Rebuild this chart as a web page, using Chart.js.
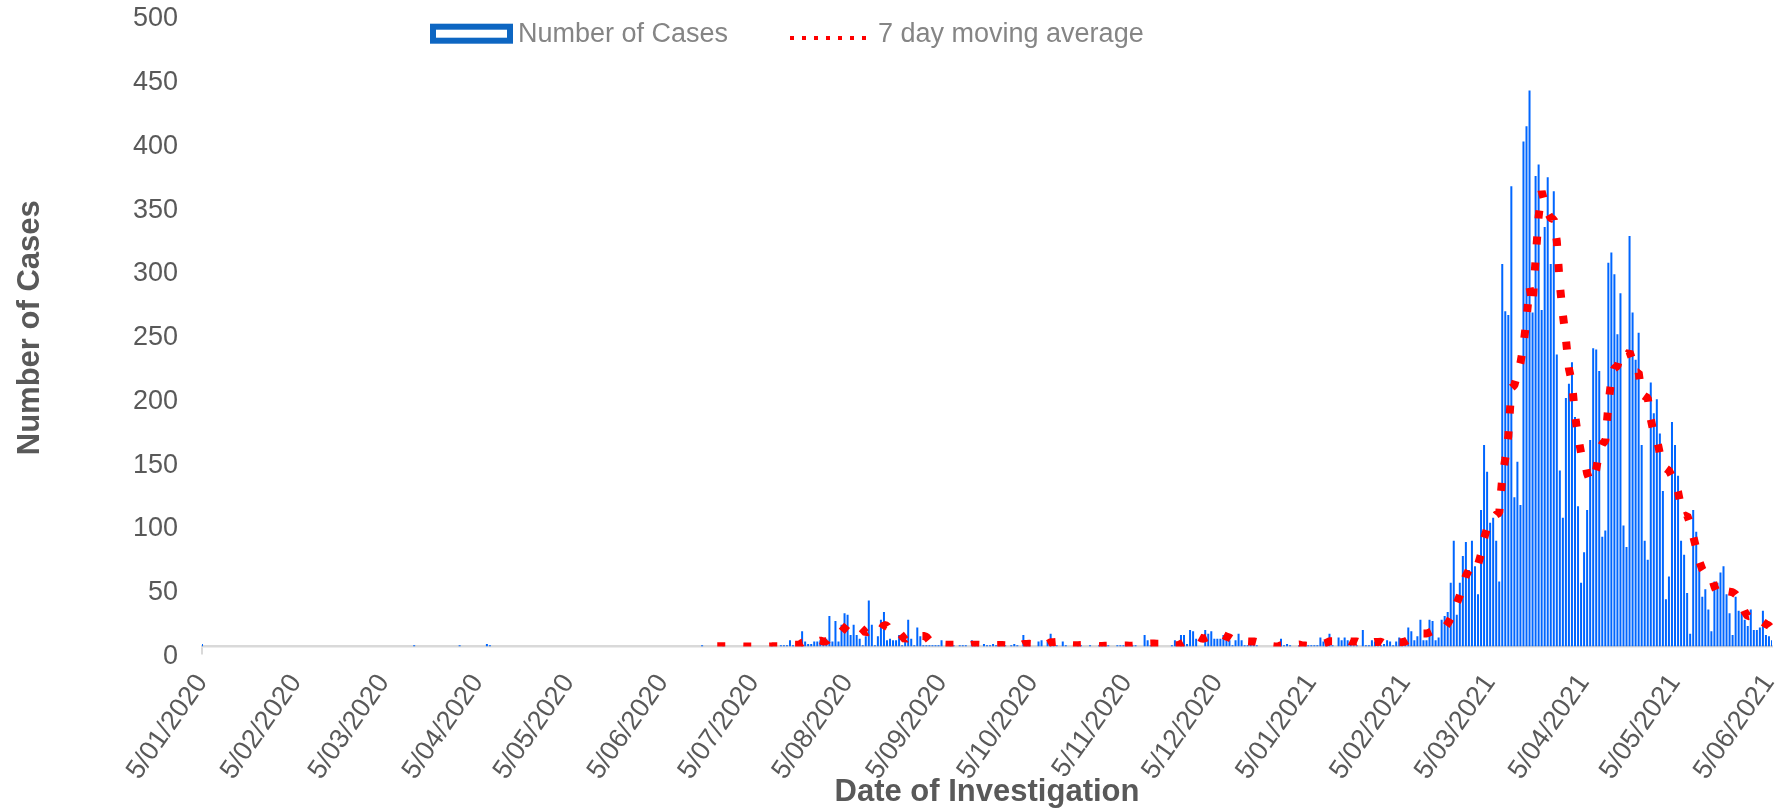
<!DOCTYPE html>
<html>
<head>
<meta charset="utf-8">
<script src="https://cdn.jsdelivr.net/npm/chart.js@4.4.1/dist/chart.umd.min.js"></script>
<style>
html,body{margin:0;padding:0;background:#ffffff;}
canvas{display:block;}
</style>
</head>
<body>
<canvas id="c" width="1788" height="811"></canvas>
<script>
// ---------- data ----------
const startDate = [2020, 0, 5];   // first category: 5/01/2020
const dayCount = 519;             // 5/01/2020 .. 6/06/2021

const tickLabels = ['5/01/2020','5/02/2020','5/03/2020','5/04/2020','5/05/2020','5/06/2020',
  '5/07/2020','5/08/2020','5/09/2020','5/10/2020','5/11/2020','5/12/2020',
  '5/01/2021','5/02/2021','5/03/2021','5/04/2021','5/05/2021','5/06/2021'];

const legendLabels = ['Number of Cases', '7 day moving average'];
const yTitle = 'Number of Cases';
const xTitle = 'Date of Investigation';

// daily number of cases (one value per day)
const cases = [
2,0,0,0,0,0,0,0,0,0,
0,0,0,0,0,0,0,0,0,0,
0,0,0,0,0,0,0,0,0,0,
0,0,0,0,0,0,0,0,0,0,
0,0,0,0,0,0,0,0,0,0,
0,0,0,0,0,0,0,0,0,0,
0,0,0,0,0,0,0,0,0,0,
1,0,0,0,0,0,0,0,0,0,
0,0,0,0,0,1,0,0,0,0,
0,0,0,0,2,1,0,0,0,0,
0,0,0,0,0,0,0,0,0,0,
0,0,0,0,0,0,0,0,0,0,
0,0,0,0,0,0,0,0,0,0,
0,0,0,0,0,0,0,0,0,0,
0,0,0,0,0,0,0,0,0,0,
0,0,0,0,0,0,0,0,0,0,
0,0,0,0,0,1,0,0,0,0,
0,0,1,0,0,0,0,0,0,0,
0,0,0,0,0,0,0,0,1,0,
0,1,1,1,5,1,0,0,12,4,
2,2,4,4,5,6,6,24,4,20,
4,17,26,25,9,17,9,6,1,8,
36,17,1,8,21,27,5,6,5,5,
9,1,6,21,6,1,15,8,1,1,
1,1,1,1,5,0,0,1,1,0,
1,1,1,0,5,1,1,0,2,1,
1,2,1,1,0,1,0,1,2,1,
0,9,1,1,0,0,4,5,0,4,
10,1,1,0,4,1,0,0,0,2,
1,0,0,1,0,0,1,1,1,1,
0,0,1,1,1,1,0,1,1,0,
0,9,5,1,0,0,0,0,0,0,
1,5,0,9,9,2,13,12,6,0,
0,13,10,12,6,6,6,9,5,5,
1,5,10,5,1,1,4,2,1,0,
0,0,0,0,0,0,6,1,2,1,
0,0,1,0,1,1,1,1,1,7,
4,5,10,1,0,7,5,7,5,2,
1,1,0,13,1,1,5,4,1,1,
2,5,4,1,4,7,1,5,15,12,
5,8,21,5,5,21,20,5,7,21,
24,27,50,83,25,50,71,82,60,83,
63,41,107,158,137,97,101,83,51,300,
263,260,361,117,145,111,396,408,436,262,
369,378,264,329,368,300,357,229,138,101,
195,206,223,180,110,50,74,107,162,234,
233,216,86,91,301,309,292,245,277,95,
78,322,262,225,246,158,83,68,207,183,
194,167,122,37,55,176,158,134,83,72,
42,10,107,90,64,39,45,29,12,51,
50,58,63,41,26,9,39,28,27,21,
16,29,13,13,15,28,9,8,5
];

// 7 day moving average (starts at day index 170)
const movingAverageStartDay = 170;
const movingAverage = [
0.1,0.1,0.1,0.1,0.1,0.1,0.1,0.1,0.1,0,
0,0,0,0,0,0,0,0,0.1,0.1,
0.1,0.3,0.4,0.6,1.3,1.3,1.3,1.3,2.9,3.3,
3.4,3.0,3.4,4.0,4.7,3.9,4.1,7.3,7.6,9.9,
9.9,11.6,14.4,17.1,15.0,16.9,15.3,15.6,13.3,10.7,
12.3,13.4,11.1,11.0,13.1,16.9,16.4,12.1,10.4,11.0,
11.1,8.3,5.3,7.6,7.6,7.0,8.4,8.3,8.3,7.6,
4.7,4.0,4.0,2.0,1.6,1.4,1.3,1.3,1.3,1.1,
1.1,0.6,0.7,0.7,1.3,1.3,1.4,1.3,1.4,1.4,
1.6,1.1,1.1,1.1,1.1,1.0,0.9,0.9,0.9,0.9,
0.7,2.0,2.0,2.1,2.0,1.7,2.1,2.9,1.6,2.0,
3.3,3.4,3.6,3.0,2.9,3.0,2.4,1.0,0.9,1.0,
1.1,0.6,0.4,0.6,0.6,0.6,0.4,0.4,0.6,0.7,
0.6,0.6,0.7,0.7,0.7,0.7,0.6,0.7,0.9,0.7,
0.6,1.7,2.3,2.4,2.3,2.1,2.1,2.1,0.9,0.1,
0.1,0.9,0.9,2.1,3.4,3.7,5.6,7.1,7.3,7.3,
6.0,6.6,7.7,7.6,6.7,6.7,7.6,8.9,7.7,7.0,
5.4,5.3,5.9,5.7,4.6,4.0,3.9,4.0,3.4,2.0,
1.3,1.1,1.0,0.4,0.1,0,0.9,1.0,1.3,1.4,
1.4,1.4,1.6,0.7,0.7,0.6,0.6,0.7,0.9,1.7,
2.3,2.9,4.1,4.1,4.0,4.9,4.6,5.0,5.0,3.9,
3.9,4.0,3.0,4.1,3.3,2.7,3.1,3.6,3.6,3.7,
2.1,2.7,3.1,2.6,2.6,3.4,3.4,3.9,5.3,6.4,
7.0,7.6,9.6,10.1,10.1,11.0,12.1,12.1,12.0,12.0,
14.7,17.9,22.0,31.0,33.9,40.0,47.1,55.4,60.1,64.9,
62.0,64.3,72.4,84.9,92.7,98.0,100.6,103.4,104.9,132.4,
147.4,165.0,202.7,205.0,213.9,222.4,236.1,256.9,282.0,267.9,
303.9,337.1,357.0,348.0,340.0,336.0,335.0,318.0,283.6,260.3,
241.1,218.0,207.0,181.7,164.7,152.1,148.3,135.7,129.4,131.0,
138.6,153.7,158.9,161.3,189.0,210.0,218.3,220.0,228.7,230.0,
228.1,231.1,224.4,214.9,215.0,198.0,196.3,194.9,178.4,167.1,
162.7,151.4,146.3,139.7,137.9,133.4,129.9,121.3,109.3,102.1,
102.9,96.4,86.6,76.9,66.9,60.6,56.7,54.9,55.1,47.1,
41.4,40.6,44.0,43.4,43.0,42.6,40.9,37.7,33.3,27.3,
23.7,24.1,24.7,21.0,19.1,19.3,17.6,16.4,13.0
];

// ---------- derived tables ----------
const categories = [];
for (let i = 0; i < dayCount; i++) {
  const d = new Date(Date.UTC(startDate[0], startDate[1], startDate[2] + i));
  categories.push(d.getUTCDate() + '/' + String(d.getUTCMonth() + 1).padStart(2, '0') + '/' + d.getUTCFullYear());
}
const maSeries = categories.map((_, i) => i < movingAverageStartDay ? null : movingAverage[i - movingAverageStartDay]);
const isTick = i => tickLabels.includes(categories[i]);

// ---------- legend (drawn in the reference's spot) ----------
const refLegend = {
  id: 'refLegend',
  afterDraw(chart) {
    const ctx = chart.ctx;
    ctx.save();
    ctx.fillStyle = '#ffffff';
    ctx.fillRect(433, 26.7, 77, 14);
    ctx.strokeStyle = '#0d66c2';
    ctx.lineWidth = 6;
    ctx.strokeRect(433, 26.7, 77, 14);
    ctx.font = "27px 'Liberation Sans', Arial, sans-serif";
    ctx.fillStyle = '#858585';
    ctx.textBaseline = 'alphabetic';
    ctx.textAlign = 'left';
    ctx.fillText(legendLabels[0], 518, 42);
    ctx.strokeStyle = '#ff0000';
    ctx.lineWidth = 4;
    ctx.setLineDash([4, 8]);
    ctx.beginPath();
    ctx.moveTo(790, 38);
    ctx.lineTo(866, 38);
    ctx.stroke();
    ctx.setLineDash([]);
    ctx.fillText(legendLabels[1], 878, 42);
    ctx.restore();
  }
};

Chart.defaults.font.family = "'Liberation Sans', Arial, Helvetica, sans-serif";

new Chart(document.getElementById('c'), {
  type: 'bar',
  data: {
    labels: categories,
    datasets: [
      {
        type: 'line',
        label: legendLabels[1],
        data: maSeries,
        borderColor: '#ff0000',
        backgroundColor: '#ff0000',
        borderWidth: 8,
        borderDash: [8, 18],
        borderCapStyle: 'butt',
        borderJoinStyle: 'bevel',
        pointRadius: 0,
        pointHoverRadius: 0,
        fill: false,
        tension: 0,
        spanGaps: false,
        order: 0
      },
      {
        type: 'bar',
        label: legendLabels[0],
        data: cases,
        backgroundColor: '#0066ff',
        borderWidth: 0,
        inflateAmount: 0,
        barThickness: 2,
        order: 1
      }
    ]
  },
  options: {
    responsive: false,
    animation: false,
    devicePixelRatio: 1,
    layout: { padding: { top: 9, right: 16, left: 0, bottom: 0 } },
    plugins: {
      legend: { display: false },
      tooltip: { enabled: false }
    },
    scales: {
      x: {
        type: 'category',
        offset: false,
        grid: {
          display: true,
          offset: false,
          drawOnChartArea: false,
          drawTicks: true,
          tickLength: 8,
          lineWidth: 2,
          color: c => isTick(c.index) ? '#d9d9d9' : 'rgba(0,0,0,0)'
        },
        border: { display: true, color: '#d9d9d9', width: 2.5 },
        ticks: {
          autoSkip: false,
          maxRotation: 55,
          minRotation: 55,
          padding: 14,
          color: '#595959',
          font: { size: 27 },
          callback: function (v, i) { return isTick(i) ? categories[i] : null; }
        },
        title: {
          display: true,
          text: xTitle,
          color: '#595959',
          font: { size: 31, weight: 'bold' },
          padding: { top: 0, bottom: 0 }
        },
        afterFit: s => { s.height = 164.5; s.paddingLeft = 0; s.paddingRight = 0; }
      },
      y: {
        min: 0,
        max: 500,
        grid: { display: false, drawTicks: false },
        border: { display: false },
        ticks: {
          stepSize: 50,
          padding: 24,
          labelOffset: 10,
          color: '#595959',
          font: { size: 27 }
        },
        title: {
          display: true,
          text: yTitle,
          color: '#595959',
          font: { size: 31, weight: 'bold' },
          padding: { top: 12, bottom: 0 }
        },
        afterFit: s => { s.width = 202; s.paddingTop = 0; s.paddingBottom = 0; }
      }
    }
  },
  plugins: [refLegend]
});
</script>
</body>
</html>
